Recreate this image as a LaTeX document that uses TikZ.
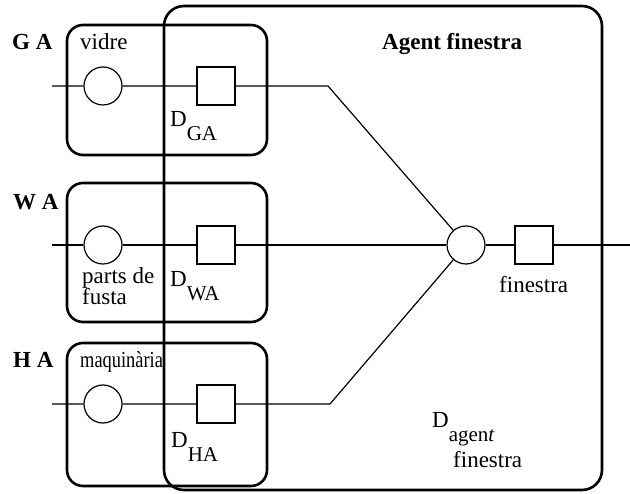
\documentclass[tikz,border=0pt]{standalone}
\usepackage{fontspec}
\setmainfont{Liberation Serif}
\newcommand{\Dsub}[1]{D\raisebox{-14pt}{\fontsize{21}{23}\selectfont #1}}
\begin{document}
\begin{tikzpicture}[x=1pt,y=-1pt,
  txt/.style={anchor=base west,inner sep=0pt,font=\fontsize{23}{25}\selectfont},
  btxt/.style={txt,font=\fontsize{23}{25}\selectfont\bfseries},
  agentbox/.style={draw,line width=2.6pt,rounded corners=16pt},
  bigbox/.style={draw,line width=2.6pt,rounded corners=20pt},
  plc/.style={draw,circle,line width=1.2pt,minimum size=38pt,inner sep=0pt},
  trn/.style={draw,rectangle,line width=1.2pt,minimum size=38pt,inner sep=0pt},
  conn/.style={line width=1.2pt}]
\useasboundingbox (0,0) rectangle (630,494);
% agent boxes
\draw[agentbox] (67,25) rectangle (267,155);
\draw[agentbox] (67,183) rectangle (267,322);
\draw[agentbox] (67,343) rectangle (267,486);
\draw[bigbox] (164,6) rectangle (602,490);
% places and transitions
\node[plc] (cG) at (103,86) {};
\node[trn] (sG) at (216,86) {};
\node[plc] (cW) at (103,245) {};
\node[trn] (sW) at (216,245) {};
\node[plc] (cH) at (103,404) {};
\node[trn] (sH) at (216,404) {};
\node[plc] (cc) at (466,245) {};
\node[trn] (sF) at (534,245) {};
\coordinate (iG) at (52,86);
\coordinate (iW) at (52,245);
\coordinate (iH) at (52,404);
\coordinate (bG) at (328,86);
\coordinate (bH) at (330,404);
\coordinate (out) at (630,245);
\draw[conn] (iG) -- (cG) -- (sG) -- (bG) -- (cc);
\draw[conn] (iW) -- (cW) -- (sW) -- (cc);
\draw[conn] (iH) -- (cH) -- (sH) -- (bH) -- (cc);
\draw[conn] (cc) -- (sF) -- (out);
% labels
\node[btxt] (lGA) at (12,50) {G A};
\node[btxt] (lWA) at (13,210) {W A};
\node[btxt] (lHA) at (13,368) {H A};
\node[txt] (lvid) at (80,50) {vidre};
\node[txt] (lmaq) at (80,368) {\scalebox{0.8}[1]{maquinària}};
\node[txt] (lp1) at (82,284) {parts de};
\node[txt] (lp2) at (82,305) {fusta};
\node[btxt] (lAg) at (382,50) {Agent finestra};
\node[txt] (dGA) at (170,127) {\Dsub{GA}};
\node[txt] (dWA) at (170,287) {\Dsub{WA}};
\node[txt] (dHA) at (171,448) {\Dsub{HA}};
\node[txt] (lfin) at (499,293) {finestra};
\node[txt] (dAg) at (432,428) {D\raisebox{-14pt}{\fontsize{21}{23}\selectfont agen\textit{t}}};
\node[txt] (dAg2) at (453,468) {finestra};
\end{tikzpicture}
\end{document}
